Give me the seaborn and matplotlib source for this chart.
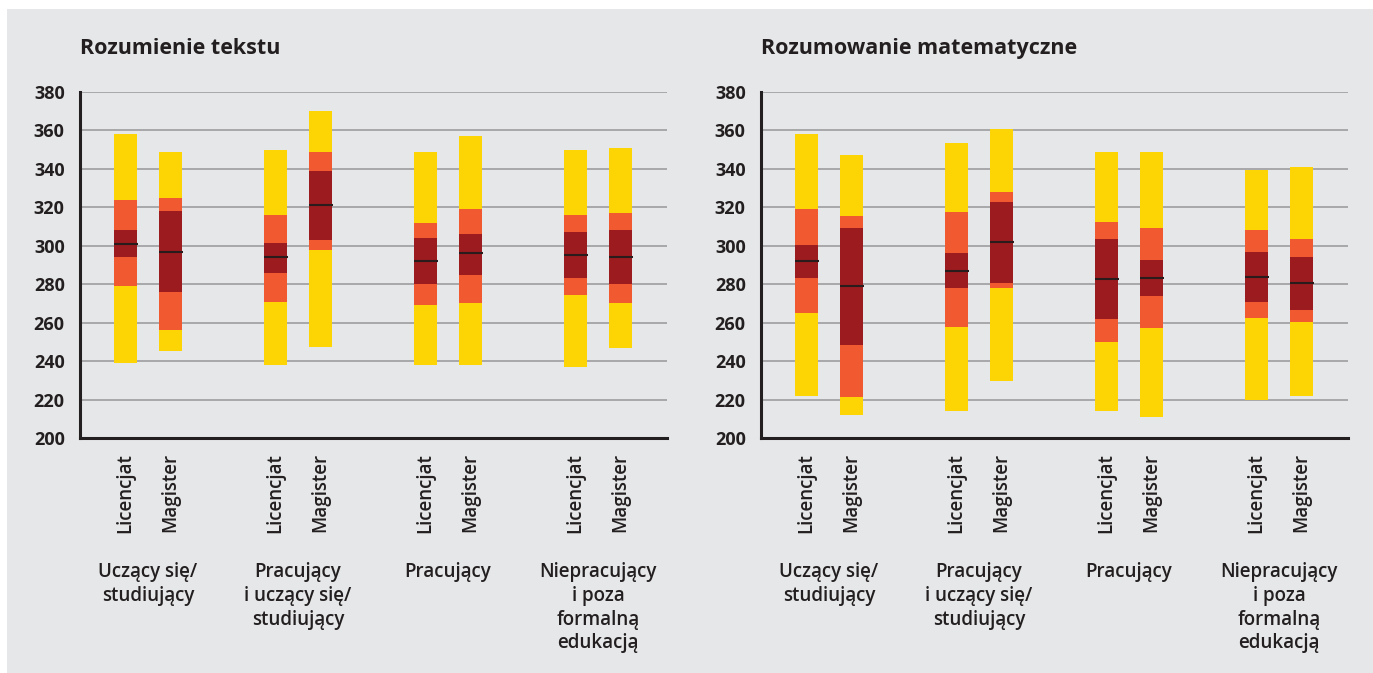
import pandas as pd
import seaborn as sns
import matplotlib.pyplot as plt
from matplotlib.patches import Rectangle

groups = ['Uczący się/\nstudiujący', 'Pracujący\ni uczący się/\nstudiujący',
          'Pracujący', 'Niepracujący\ni poza\nformalną\nedukacją']
degrees = ['Licencjat', 'Magister']
titles = ['Rozumienie tekstu', 'Rozumowanie matematyczne']

# order: group1 L, group1 M, group2 L, group2 M, ...
text_p05 = [239, 245.5, 238, 247.5, 238, 238, 237, 247]
text_p25 = [279, 256, 271, 298, 269, 270, 274.5, 270]
text_ci_lo = [294, 276, 286, 303, 280, 285, 283, 280]
text_mean = [301, 297, 294, 321, 292, 296, 295, 294]
text_ci_hi = [308, 318, 301.5, 339, 304, 306, 307, 308]
text_p75 = [324, 325, 316, 349, 312, 319, 316, 317]
text_p95 = [358, 349, 350, 370, 349, 357, 350, 351]

math_p05 = [222, 212, 214, 229.5, 214, 211, 220, 222]
math_p25 = [265, 221.5, 258, 278, 250, 257, 262.5, 260.5]
math_ci_lo = [283, 248.5, 278, 280.5, 262, 274, 271, 266.5]
math_mean = [292, 279, 287, 302, 282.5, 283, 284, 280.5]
math_ci_hi = [300.5, 309, 296, 323, 303.5, 292.5, 297, 294]
math_p75 = [319, 315.5, 317.5, 328, 312.5, 309, 308, 303.5]
math_p95 = [358, 347, 353.5, 361, 349, 349, 339.5, 341]

BG = '#e6e7e8'
YELLOW = '#fdd404'
ORANGE = '#f15a30'
DARK = '#9b1b1f'
INK = '#231f20'
GRID = '#a3a3a5'

sns.set_theme(style='white')
plt.rcParams['font.family'] = ['Open Sans', 'DejaVu Sans']

W, H = 1373, 673
fig = plt.figure(figsize=(W / 100, H / 100), dpi=100)
fig.add_artist(Rectangle((7 / W, 0), 1, 1 - 9 / H, transform=fig.transFigure,
                         facecolor=BG, edgecolor='none', zorder=-10))

panels = [
    (titles[0], text_p05, text_p25, text_ci_lo, text_mean, text_ci_hi, text_p75, text_p95, 80),
    (titles[1], math_p05, math_p25, math_ci_lo, math_mean, math_ci_hi, math_p75, math_p95, 761),
]

for title, p05, p25, ci_lo, mean, ci_hi, p75, p95, left_px in panels:
    ax = fig.add_axes([left_px / W, 1 - 438 / H, 587 / W, 346 / H])
    ax.set_facecolor(BG)

    pos = [45.5 + 150 * g + 45 * s for g in range(len(groups)) for s in range(len(degrees))]
    df = pd.DataFrame({'pos': pos, 'p05': p05, 'p25': p25, 'ci_lo': ci_lo,
                       'mean': mean, 'ci_hi': ci_hi, 'p75': p75, 'p95': p95})

    # yellow band, then orange, then the dark band around the mean on top
    for lo, hi, col in [('p05', 'p95', YELLOW), ('p25', 'p75', ORANGE), ('ci_lo', 'ci_hi', DARK)]:
        df['h'] = df[hi] - df[lo]
        sns.barplot(data=df, x='pos', y='h', bottom=df[lo].values, native_scale=True,
                    width=23 / 45, color=col, saturation=1, errorbar=None,
                    linewidth=0, ax=ax, zorder=2)

    sns.scatterplot(data=df, x='pos', y='mean', marker='_', s=290, color='#2a1c1c',
                    linewidth=1.5, ax=ax, zorder=3)

    ax.set_xlim(0, 587)
    ax.set_ylim(200, 380)
    ax.set_yticks(range(200, 381, 20))
    ax.yaxis.grid(True, color=GRID, lw=1.3)
    ax.set_axisbelow(True)
    for side in ['top', 'right']:
        ax.spines[side].set_visible(False)
    for side in ['left', 'bottom']:
        ax.spines[side].set_color(INK)
        ax.spines[side].set_linewidth(2.2)
    ax.tick_params(axis='y', length=6, width=1.8, color=INK, pad=5,
                   labelsize=13, labelcolor=INK)
    for t in ax.get_yticklabels():
        t.set_fontweight('bold')
    ax.set_xticks(pos)
    ax.set_xticklabels(degrees * len(groups), rotation=90, fontsize=13.5,
                       fontweight='semibold', color=INK)
    ax.tick_params(axis='x', length=0, pad=11)
    ax.set_xlabel('')
    ax.set_ylabel('')

    for g, name in enumerate(groups):
        cx = 45.5 + 150 * g + 22.5
        ax.text(cx, -124 / 346, name, transform=ax.get_xaxis_transform(),
                ha='center', va='top', multialignment='center', fontsize=13.5,
                fontweight='semibold', color=INK, linespacing=1.25)

    fig.text(left_px / W, 1 - 54 / H, title, fontsize=15.5, fontweight='bold',
             color=INK, va='baseline', ha='left')

fig.savefig('out.png', dpi=100, facecolor='white')
